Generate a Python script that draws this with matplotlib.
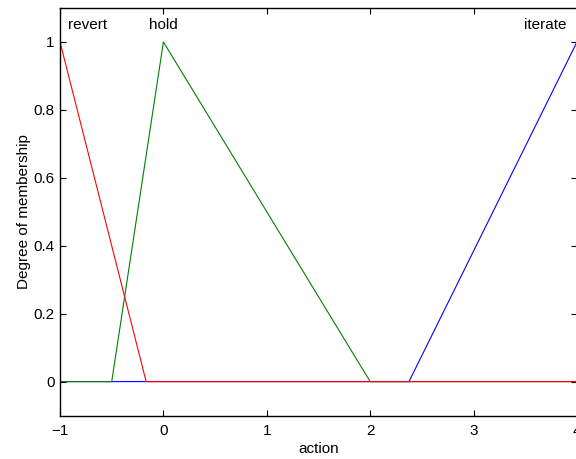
import numpy as np
import matplotlib
matplotlib.use("Agg")
import matplotlib.pyplot as plt

plt.rcParams['font.family'] = ['Liberation Sans', 'DejaVu Sans']

# membership function definitions on the "action" universe
x_range = [-1.0, 4.0]
mf_names = ["iterate", "hold", "revert"]
mf_points = {
    "revert": [-1.833, -1.0, -0.167],
    "hold": [-0.5, 0.0, 2.0],
    "iterate": [2.375, 4.0, 5.625],
}
mf_colors = {"iterate": "#0000ff", "hold": "#008000", "revert": "#ff0000"}
# label anchor (x position, horizontal alignment)
label_pos = {"revert": (-0.922, "left"), "hold": (0.0, "center"),
             "iterate": (3.903, "right")}
y_ticks = [0, 0.2, 0.4, 0.6, 0.8, 1]
x_ticks = [-1, 0, 1, 2, 3, 4]

FS = 11


def trimf(x, a, b, c):
    left = np.where(b > a, (x - a) / (b - a + 1e-12), 1.0)
    right = np.where(c > b, (c - x) / (c - b + 1e-12), 1.0)
    return np.clip(np.minimum(left, right), 0, 1)


fig = plt.figure(figsize=(5.76, 4.59), dpi=100)
ax = fig.add_axes([0.1042, 0.0946, 0.8975, 0.888])

x = np.linspace(x_range[0], x_range[1], 2001)
for name in mf_names:
    a, b, c = mf_points[name]
    ax.plot(x, trimf(x, a, b, c), color=mf_colors[name], lw=0.8)
    lx, ha = label_pos[name]
    ax.text(lx, 1.05, name, ha=ha, va="center", fontsize=FS)

ax.set_xlim(x_range)
ax.set_ylim(-0.1, 1.1)
ax.set_xticks(x_ticks)
ax.set_xticklabels(["\u22121", "0", "1", "2", "3", "4"])
ax.set_yticks(y_ticks)
ax.set_yticklabels(["0", "0.2", "0.4", "0.6", "0.8", "1"])
ax.tick_params(direction="in", length=4, width=0.8, labelsize=FS,
               top=True, right=True, pad=4)
ax.tick_params(axis="x", pad=6)
for s in ax.spines.values():
    s.set_linewidth(1.0)
ax.set_xlabel("action", fontsize=FS, labelpad=3)
ax.set_ylabel("Degree of membership", fontsize=FS, labelpad=2)

fig.savefig("out.png", dpi=100)
